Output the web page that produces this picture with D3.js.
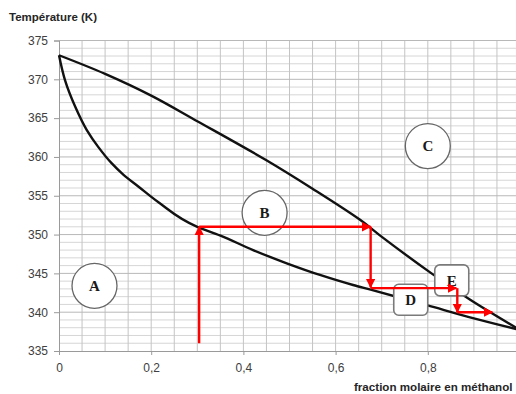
<!DOCTYPE html>
<html>
<head>
<meta charset="utf-8">
<script src="https://cdn.jsdelivr.net/npm/d3@7"></script>
<style>
  body { margin: 0; background: #fff; }
  svg { display: block; font-family: "Liberation Sans", Arial, sans-serif; }
</style>
</head>
<body>
<svg id="chart" width="516" height="394"></svg>
<script>
// upper curve (vapeur / rosee)
const dewX = [0, 0.1, 0.2, 0.3, 0.449, 0.55, 0.653, 0.696, 0.808, 0.892, 1];
const dewT = [373.1, 370.7, 367.9, 364.6, 359.6, 355.9, 351.9, 349.9, 345.0, 341.6, 337.7];
// lower curve (liquide / ebullition)
const bubX = [0, 0.013, 0.035, 0.06, 0.085, 0.114, 0.14, 0.172, 0.215, 0.3, 0.349, 0.421, 0.494, 0.566, 0.638, 0.676, 0.798, 0.9, 1];
const bubT = [373.1, 369.9, 366.5, 363.5, 361.3, 359.2, 357.7, 356.2, 354.2, 351.0, 349.9, 348.0, 346.3, 344.8, 343.5, 342.9, 340.9, 339.2, 337.7];

// red distillation steps [x1, T1, x2, T2]
const steps = [
  [0.304, 336.0, 0.304, 351.0],
  [0.304, 351.0, 0.676, 351.0],
  [0.676, 351.0, 0.676, 343.2],
  [0.676, 343.1, 0.862, 343.1],
  [0.864, 343.1, 0.864, 340.0],
  [0.864, 340.0, 0.94, 340.0]
];

// zone labels
const zoneNames = ["A", "B", "C", "D", "E"];
const zoneX = [0.077, 0.446, 0.80, 0.763, 0.852];
const zoneT = [343.4, 352.8, 361.4, 341.6, 344.1];
const zoneShape = ["circle", "circle", "circle", "box", "box"];

const xTicks = [0, 0.2, 0.4, 0.6, 0.8, 1];
const yTicks = [335, 340, 345, 350, 355, 360, 365, 370, 375];

const svg = d3.select("#chart");
const x = d3.scaleLinear().domain([0, 1]).range([59, 520]);
const y = d3.scaleLinear().domain([335, 375]).range([351, 40.5]);

// grid
const grid = svg.append("g").attr("class", "grid");
grid.selectAll("line.minor-h")
  .data(d3.range(336, 375, 1).filter(v => v % 5 !== 0))
  .join("line")
  .attr("x1", x(0)).attr("x2", x(1))
  .attr("y1", d => y(d)).attr("y2", d => y(d))
  .attr("stroke", "#d6d6d6").attr("stroke-width", 1);
grid.selectAll("line.vert")
  .data(d3.range(1, 21).map(i => i * 0.05))
  .join("line")
  .attr("x1", d => x(d)).attr("x2", d => x(d))
  .attr("y1", y(335)).attr("y2", y(375))
  .attr("stroke", "#c4c4c4").attr("stroke-width", 1);
grid.selectAll("line.major-h")
  .data(yTicks.slice(1))
  .join("line")
  .attr("x1", x(0)).attr("x2", x(1))
  .attr("y1", d => y(d)).attr("y2", d => y(d))
  .attr("stroke", "#b8b8b8").attr("stroke-width", 1);

// axes
const xAxis = svg.append("g")
  .attr("transform", `translate(0,${y(335)})`)
  .call(d3.axisBottom(x).tickValues(xTicks).tickSize(4).tickPadding(8)
    .tickFormat(d => String(d).replace(".", ",")));
const yAxis = svg.append("g")
  .attr("transform", `translate(${x(0)},0)`)
  .call(d3.axisLeft(y).tickValues(yTicks).tickSize(5).tickPadding(6));
[xAxis, yAxis].forEach(a => {
  a.select(".domain").attr("stroke", "#9a9a9a");
  a.selectAll(".tick line").attr("stroke", "#9a9a9a");
  a.selectAll("text").attr("fill", "#404040")
    .style("font-size", "12px").style("font-family", "Liberation Sans, Arial, sans-serif");
});

// curves
const line = d3.line().x(d => x(d[0])).y(d => y(d[1])).curve(d3.curveCatmullRom.alpha(0.5));
const lineY = d3.line().x(d => x(d[0])).y(d => y(d[1])).curve(d3.curveMonotoneY);
svg.append("path")
  .datum(dewX.map((v, i) => [v, dewT[i]]))
  .attr("d", line)
  .attr("fill", "none").attr("stroke", "#111").attr("stroke-width", 2.4);
svg.append("path")
  .datum(bubX.map((v, i) => [v, bubT[i]]))
  .attr("d", lineY)
  .attr("fill", "none").attr("stroke", "#111").attr("stroke-width", 2.4);

// zone labels
const zones = svg.append("g").selectAll("g")
  .data(zoneNames.map((n, i) => ({ name: n, x: zoneX[i], t: zoneT[i], shape: zoneShape[i] })))
  .join("g")
  .attr("transform", d => `translate(${x(d.x)},${y(d.t)})`);
zones.filter(d => d.shape === "circle").append("circle")
  .attr("r", 22.5).attr("fill", "#fff").attr("stroke", "#666").attr("stroke-width", 1.3);
zones.filter(d => d.shape === "box").append("rect")
  .attr("x", -17).attr("y", -15.5).attr("width", 34).attr("height", 31).attr("rx", 5)
  .attr("fill", "#fff").attr("stroke", "#7a7a7a").attr("stroke-width", 1.6);
zones.append("text")
  .attr("text-anchor", "middle").attr("dy", "0.36em")
  .style("font-family", "Liberation Serif, Times New Roman, serif")
  .style("font-weight", "bold").style("font-size", "15px")
  .attr("fill", "#1a1a1a")
  .text(d => d.name);

// red arrows
svg.append("defs").append("marker")
  .attr("id", "head").attr("viewBox", "0 0 10 10")
  .attr("refX", 9).attr("refY", 5)
  .attr("markerWidth", 4).attr("markerHeight", 4)
  .attr("markerUnits", "strokeWidth")
  .attr("orient", "auto")
  .append("path").attr("d", "M0,0L10,5L0,10Z").attr("fill", "#ff0000");
svg.append("g").selectAll("line")
  .data(steps)
  .join("line")
  .attr("x1", d => x(d[0])).attr("y1", d => y(d[1]))
  .attr("x2", d => x(d[2])).attr("y2", d => y(d[3]))
  .attr("stroke", "#ff0000").attr("stroke-width", 2.4)
  .attr("marker-end", "url(#head)");

// titles
svg.append("text")
  .attr("x", 9).attr("y", 21)
  .style("font-size", "11.5px").style("font-weight", "bold")
  .attr("fill", "#262626")
  .text("Température (K)");
svg.append("text")
  .attr("x", 354).attr("y", 391)
  .style("font-size", "11.6px").style("font-weight", "bold")
  .attr("fill", "#262626")
  .text("fraction molaire en méthanol");
</script>
</body>
</html>
